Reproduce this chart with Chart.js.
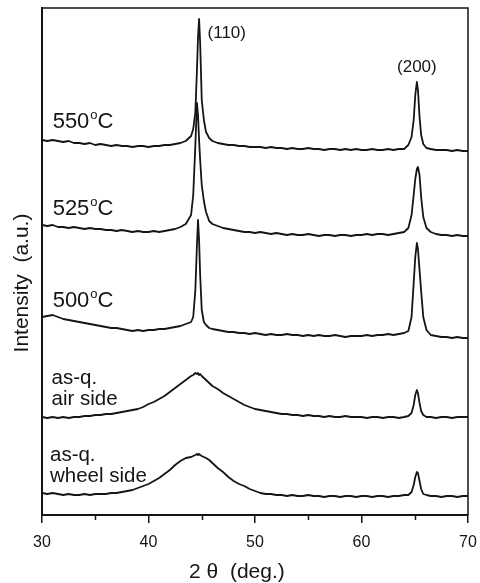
<!DOCTYPE html>
<html>
<head>
<meta charset="utf-8">
<script src="https://cdn.jsdelivr.net/npm/chart.js@4/dist/chart.umd.min.js"></script>
<style>
  html, body { margin: 0; padding: 0; background: #fff; }
  canvas { display: block; }
</style>
</head>
<body>
<canvas id="xrd" width="480" height="583"></canvas>
<script>
// XRD 图谱：不同退火温度与淬态样品 (曲线按强度偏移叠放)

// 2θ 采样点 (deg.)
const twoTheta = [
  30, 30.5, 31, 31.5, 32, 32.5, 33, 33.5, 34, 34.5, 35, 35.5, 36, 36.5, 37, 37.5, 38, 38.5, 39, 39.5, 40, 40.5, 41, 41.5, 42, 42.5, 43, 43.5,
  44, 44.2, 44.4, 44.55, 44.65, 44.75, 44.85, 45, 45.2, 45.4, 45.7,
  46, 46.5, 47, 47.5, 48, 48.5, 49, 49.5, 50, 50.5, 51, 51.5, 52, 52.5, 53, 53.5, 54, 54.5, 55, 55.5, 56, 56.5, 57, 57.5, 58, 58.5, 59, 59.5, 60, 60.5, 61, 61.5, 62, 62.5, 63, 63.5, 64,
  64.4, 64.7, 64.9, 65.05, 65.2, 65.3, 65.45, 65.6, 65.8, 66.1,
  66.5, 67, 67.5, 68, 68.5, 69, 69.5, 70
];

// 强度 (a.u.，已含偏移)
const int550 = [
  375, 374, 375, 374, 373, 374, 372, 372, 371, 372, 370, 371, 370, 369, 370, 369, 369, 368, 369, 369, 368, 369, 369, 370, 370, 371, 372, 374,
  379, 386, 403, 445, 478, 496, 472, 415, 395, 383, 377,
  374, 372, 371, 370, 370, 369, 369, 368, 368, 368, 367, 368, 367, 367, 366, 367, 366, 366, 367, 366, 366, 365, 366, 366, 365, 366, 365, 366, 365, 365, 366, 365, 365, 366, 365, 366, 366,
  370, 378, 395, 420, 433, 425, 398, 380, 371, 367,
  366, 365, 365, 365, 364, 365, 364, 364
];
const int525 = [
  290, 289, 290, 288, 288, 287, 288, 287, 286, 287, 286, 286, 285, 285, 284, 285, 284, 283, 284, 283, 283, 284, 283, 284, 285, 286, 288, 291,
  300, 320, 370, 412, 400, 375, 355, 330, 314, 303, 294,
  291, 289, 287, 286, 285, 284, 283, 283, 282, 283, 282, 281, 282, 281, 280, 281, 280, 280, 281, 280, 279, 280, 280, 279, 280, 280, 279, 280, 280, 281, 280, 281, 281, 280, 281, 282, 283,
  287, 300, 320, 336, 346, 348, 340, 318, 298, 287,
  283, 281, 280, 280, 279, 280, 279, 279
];
const int500 = [
  198, 199, 200, 198, 196, 195, 194, 193, 192, 191, 190, 189, 188, 187, 187, 186, 185, 184, 185, 184, 185, 185, 186, 186, 187, 188, 189, 191,
  193, 198, 225, 270, 295, 275, 240, 205, 193, 190, 187,
  186, 185, 184, 183, 183, 182, 182, 181, 182, 181, 180, 181, 180, 180, 181, 180, 180, 179, 180, 179, 180, 179, 179, 180, 179, 178, 179, 179, 179, 180, 179, 180, 180, 181, 180, 181, 182,
  184, 198, 232, 258, 272, 266, 245, 224, 198, 185,
  180, 179, 178, 178, 177, 178, 177, 177
];
const intAir = [
  98, 97, 98, 97, 98, 97, 98, 98, 99, 99, 100, 100, 101, 101, 102, 103, 104, 105, 106, 108, 111, 113, 116, 119, 123, 127, 131, 135,
  139, 140, 142, 141, 142, 140, 141, 139, 137, 135, 132,
  129, 126, 122, 119, 116, 113, 110, 108, 106, 105, 104, 103, 102, 101, 101, 100, 100, 99, 100, 99, 99, 98, 99, 98, 98, 99, 98, 98, 98, 97, 98, 98, 97, 98, 98, 97, 98,
  99, 102, 110, 120, 125, 122, 112, 104, 100, 98,
  98, 97, 98, 98, 97, 98, 98, 98
];
const intWheel = [
  22, 21, 22, 21, 20, 21, 20, 20, 21, 20, 21, 21, 21, 22, 22, 23, 24, 25, 27, 29, 31, 34, 37, 41, 45, 50, 54, 57,
  58, 59, 60, 61, 60, 61, 60, 59, 58, 57, 55,
  52, 47, 43, 38, 34, 31, 29, 26, 24, 22, 21, 21, 20, 20, 19, 20, 19, 19, 20, 19, 19, 18, 19, 19, 18, 19, 19, 18, 19, 19, 18, 19, 19, 18, 19, 19, 20,
  20, 23, 30, 38, 43, 42, 34, 26, 21, 20,
  19, 19, 18, 19, 19, 18, 19, 19
];

const series = [int550, int525, int500, intAir, intWheel];

// 次刻度
const minorTicks = [35, 45, 55, 65];

// 文字标注，锚点为数据坐标 [2θ, 强度]
const tempLabels = [
  { text: '550', x: 31.0, y: 387 },
  { text: '525', x: 31.0, y: 300 },
  { text: '500', x: 31.0, y: 208 }
];
const sampleLabels = [
  { text: 'as-q.', x: 30.9, y: 131 },
  { text: 'air side', x: 30.9, y: 110 },
  { text: 'as-q.', x: 30.75, y: 54 },
  { text: 'wheel side', x: 30.75, y: 33 }
];
const peakLabels = [
  { text: '(110)', x: 47.35, y: 482 },
  { text: '(200)', x: 65.2, y: 448 }
];

const INK = '#151515';
const FONT = '"Liberation Sans", Arial, sans-serif';

// 边框、次刻度、标注与坐标轴标题
const annotate = {
  id: 'annotate',
  afterDraw(chart) {
    const { ctx, chartArea: { left, right, top, bottom }, scales: { x, y } } = chart;
    ctx.save();
    ctx.strokeStyle = INK;
    ctx.lineWidth = 1.5;
    ctx.beginPath();
    ctx.moveTo(left, top);
    ctx.lineTo(right, top);
    ctx.lineTo(right, bottom);
    ctx.stroke();

    minorTicks.forEach(v => {
      const px = Math.round(x.getPixelForValue(v)) + 0.5;
      ctx.beginPath();
      ctx.moveTo(px, bottom);
      ctx.lineTo(px, bottom + 5);
      ctx.stroke();
    });

    ctx.fillStyle = INK;
    ctx.textBaseline = 'alphabetic';
    ctx.textAlign = 'left';

    // 温度：数字 + 上标 o + C
    tempLabels.forEach(l => {
      let px = x.getPixelForValue(l.x);
      const py = y.getPixelForValue(l.y);
      ctx.font = '22px ' + FONT;
      ctx.fillText(l.text, px, py);
      px += ctx.measureText(l.text).width + 1;
      ctx.font = '13px ' + FONT;
      ctx.fillText('o', px, py - 9);
      px += ctx.measureText('o').width;
      ctx.font = '22px ' + FONT;
      ctx.fillText('C', px, py);
    });

    ctx.font = '20.5px ' + FONT;
    sampleLabels.forEach(l => {
      ctx.fillText(l.text, x.getPixelForValue(l.x), y.getPixelForValue(l.y));
    });

    ctx.font = '17px ' + FONT;
    ctx.textAlign = 'center';
    ctx.textBaseline = 'middle';
    peakLabels.forEach(l => {
      ctx.fillText(l.text, x.getPixelForValue(l.x), y.getPixelForValue(l.y));
    });

    // 坐标轴标题
    ctx.font = '21px ' + FONT;
    ctx.fillText('2 θ  (deg.)', x.getPixelForValue(48.3), bottom + 57);
    ctx.translate(left - 20, y.getPixelForValue(232));
    ctx.rotate(-Math.PI / 2);
    ctx.fillText('Intensity  (a.u.)', 0, 0);
    ctx.restore();
  }
};

new Chart(document.getElementById('xrd'), {
  type: 'line',
  data: {
    datasets: series.map(vals => ({
      data: twoTheta.map((t, i) => ({ x: t, y: vals[i] })),
      borderColor: INK,
      borderWidth: 1.8,
      borderJoinStyle: 'round',
      pointRadius: 0,
      fill: false,
      tension: 0
    }))
  },
  plugins: [annotate],
  options: {
    responsive: false,
    animation: false,
    devicePixelRatio: 1,
    layout: { padding: { left: 0, right: 12, top: 8, bottom: 0 } },
    plugins: { legend: { display: false }, tooltip: { enabled: false } },
    scales: {
      x: {
        type: 'linear',
        min: 30,
        max: 70,
        ticks: {
          stepSize: 10,
          color: INK,
          font: { family: FONT, size: 16 },
          padding: 10,
          maxRotation: 0
        },
        grid: {
          drawOnChartArea: false,
          drawTicks: true,
          tickLength: 8,
          color: INK,
          lineWidth: 1.5
        },
        border: { display: true, color: INK, width: 2 },
        afterFit(scale) {
          scale.height = 68;
          // 首末刻度标签允许溢出绘图区
          scale.paddingLeft = 0;
          scale.paddingRight = 0;
        }
      },
      y: {
        min: 0,
        max: 507,
        ticks: { display: false },
        grid: { display: false, drawTicks: false },
        border: { display: true, color: INK, width: 2 },
        afterFit(scale) { scale.width = 42; }
      }
    }
  }
});
</script>
</body>
</html>
